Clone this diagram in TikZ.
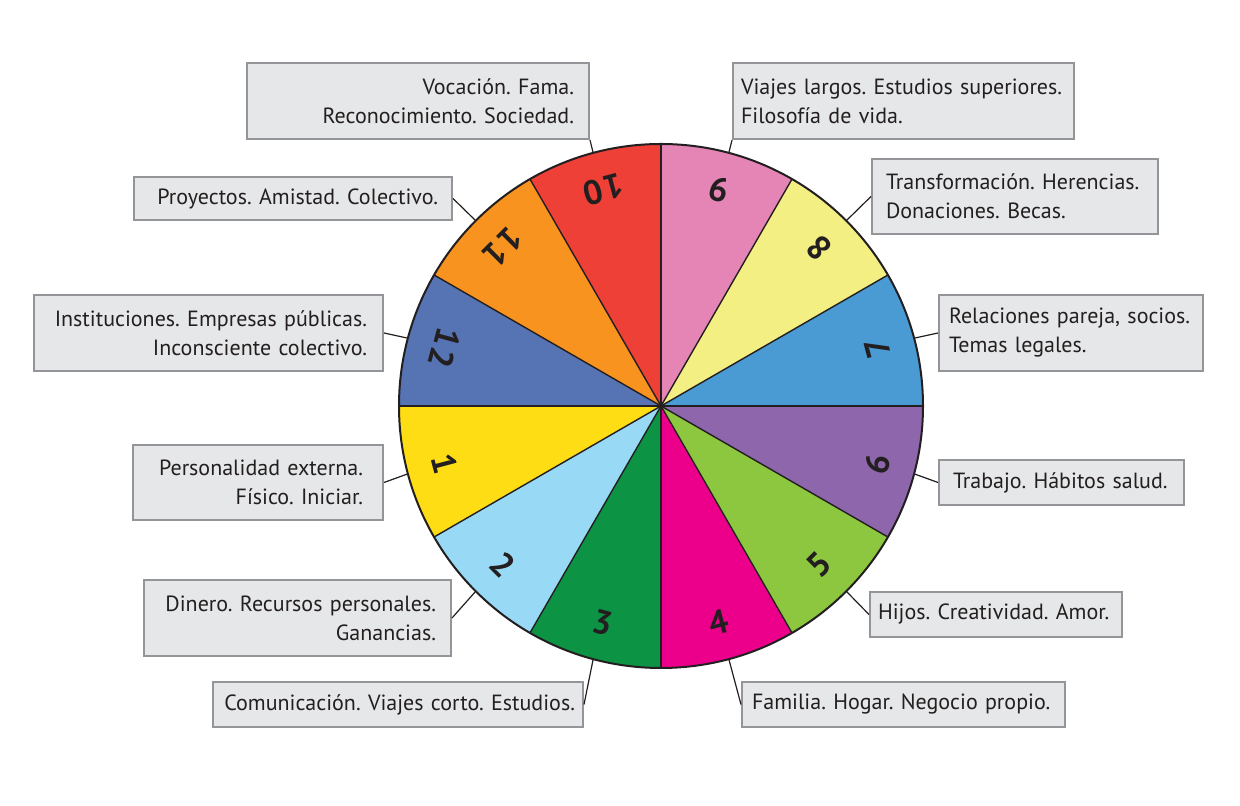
\documentclass[tikz,border=0pt]{standalone}
\usepackage{fontspec}
\setmainfont{PT Sans}
\newfontfamily\numfont{PT Sans}[LetterSpace=5]
\frenchspacing
\definecolor{boxfill}{HTML}{E6E7E8}
\definecolor{boxline}{HTML}{939598}
\definecolor{ink}{HTML}{231F20}
\definecolor{c1}{HTML}{FFDD15}
\definecolor{c2}{HTML}{98D9F5}
\definecolor{c3}{HTML}{0C9444}
\definecolor{c4}{HTML}{EC008B}
\definecolor{c5}{HTML}{8DC63F}
\definecolor{c6}{HTML}{8E66AC}
\definecolor{c7}{HTML}{4A9AD3}
\definecolor{c8}{HTML}{F4EF83}
\definecolor{c9}{HTML}{E585B6}
\definecolor{c10}{HTML}{EE4037}
\definecolor{c11}{HTML}{F7931E}
\definecolor{c12}{HTML}{5673B3}
\tikzset{box/.style={rectangle,draw=boxline,fill=boxfill,line width=1pt,inner xsep=4pt,inner ysep=0pt,anchor=north west,text=ink,font=\fontsize{11}{14.5}\selectfont,execute at begin node={\hyphenpenalty=10000}}}
\tikzset{num/.style={text=ink,font=\fontsize{17}{17}\numfont\bfseries}}
\tikzset{link/.style={draw=ink,line width=0.6pt}}

\begin{document}
\begin{tikzpicture}[x=0.5pt,y=0.5pt]
      \useasboundingbox (-661,-400) rectangle (579,406);
      \foreach \h in {1,...,12} {
        \fill[c\h] (0,0) -- ({150+30*\h}:262) arc ({150+30*\h}:{180+30*\h}:262) -- cycle;
        \coordinate (p\h) at ({165+30*\h}:262);
      }
      \foreach \a in {0,30,...,330}
        \draw[ink,line width=0.7pt] (0,0) -- (\a:262);
      \draw[ink,line width=1pt] (0,0) circle (262);
      \foreach \h in {1,...,12}
        \node[num,rotate={255+30*\h}] (n\h) at ({165+30*\h}:224) {\h};

      \node[box,inner xsep=7.5pt,text width=156pt,minimum height=38pt,align=right] (h10) at (-415,344) {Vocación. Fama.\\Reconocimiento. Sociedad.};
      \node[box,inner xsep=7pt,text width=145pt,minimum height=21.5pt,align=right] (h11) at (-528,230) {Proyectos. Amistad. Colectivo.};
      \node[box,inner xsep=8pt,text width=158.5pt,minimum height=38pt,align=right] (h12) at (-628,112) {Instituciones. Empresas públicas.\\Inconsciente colectivo.};
      \node[box,inner xsep=10pt,text width=105pt,minimum height=37.5pt,align=right] (h1) at (-529,-38) {Personalidad externa.\\Físico. Iniciar.};
      \node[box,inner xsep=7.5pt,text width=138.5pt,minimum height=38pt,align=right] (h2) at (-518,-173) {Dinero. Recursos personales.\\Ganancias.};
      \node[box,text width=177pt,minimum height=22.5pt,align=right] (h3) at (-449,-275) {Comunicación. Viajes corto. Estudios.};
      \node[box,inner xsep=5pt,text width=151.5pt,minimum height=22.5pt,align=left] (h4) at (80,-275) {Familia. Hogar. Negocio propio.};
      \node[box,text width=118pt,minimum height=22.5pt,align=left] (h5) at (208,-185) {Hijos. Creatividad. Amor.};
      \node[box,inner xsep=7pt,text width=108.5pt,minimum height=22.5pt,align=left] (h6) at (277,-53) {Trabajo. Hábitos salud.};
      \node[box,inner xsep=5pt,text width=122pt,minimum height=38pt,align=left] (h7) at (277,112) {Relaciones pareja, socios.\\Temas legales.};
      \node[box,inner xsep=7pt,text width=129pt,minimum height=37.5pt,align=left] (h8) at (210,248) {Transformación. Herencias.\\Donaciones. Becas.};
      \node[box,text width=162.5pt,minimum height=38pt,align=left] (h9) at (71,344) {Viajes largos. Estudios superiores.\\Filosofía de vida.};

      \draw[link] (p10) -- (h10.south east);
      \draw[link] (p9) -- (h9.south west);
      \draw[link] (p11) -- (h11.east);
      \draw[link] (p8) -- (h8.west);
      \draw[link] (p12) -- (h12.east);
      \draw[link] (p7) -- (h7.west);
      \draw[link] (p1) -- (h1.east);
      \draw[link] (p6) -- (h6.west);
      \draw[link] (p2) -- (h2.east);
      \draw[link] (p5) -- (h5.west);
      \draw[link] (p3) -- (h3.east);
      \draw[link] (p4) -- (h4.west);
    \end{tikzpicture}
\end{document}
